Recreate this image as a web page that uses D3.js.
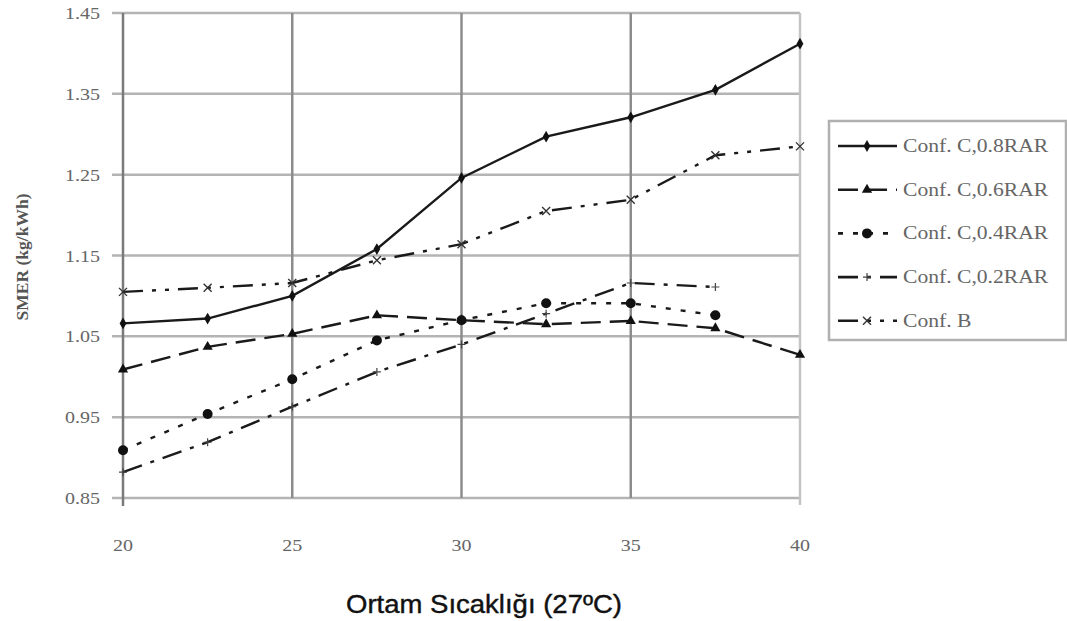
<!DOCTYPE html>
<html>
<head>
<meta charset="utf-8">
<script src="https://cdn.jsdelivr.net/npm/d3@7"></script>
<style>
  body { margin: 0; background: #fff; }
  svg { display: block; }
</style>
</head>
<body>
<script>
// data
var temps = [20, 22.5, 25, 27.5, 30, 32.5, 35, 37.5, 40];
var conf08 = [1.066, 1.072, 1.100, 1.158, 1.246, 1.297, 1.321, 1.355, 1.412];
var conf06 = [1.009, 1.037, 1.053, 1.076, 1.070, 1.065, 1.069, 1.060, 1.027];
var conf04 = [0.909, 0.954, 0.997, 1.045, 1.070, 1.091, 1.091, 1.076];
var conf02 = [0.882, 0.919, 0.963, 1.006, 1.040, 1.078, 1.116, 1.111];
var confB = [1.105, 1.110, 1.116, 1.144, 1.164, 1.205, 1.219, 1.274, 1.285];
var xTicks = [20, 25, 30, 35, 40];
var yTicks = [0.85, 0.95, 1.05, 1.15, 1.25, 1.35, 1.45];

var series = [
  { name: "Conf. C,0.8RAR", values: conf08, dash: null, marker: "diamond" },
  { name: "Conf. C,0.6RAR", values: conf06, dash: "20,9", marker: "triangle" },
  { name: "Conf. C,0.4RAR", values: conf04, dash: "5,10", marker: "circle" },
  { name: "Conf. C,0.2RAR", values: conf02, dash: "20,9,4,9", marker: "plus" },
  { name: "Conf. B", values: confB, dash: "20,9,4,9,4,9", marker: "cross" }
];

var W = 1067, H = 621;
var svg = d3.select("body").append("svg").attr("width", W).attr("height", H);

var x = d3.scaleLinear().domain([20, 40]).range([123, 800]);
var y = d3.scaleLinear().domain([0.85, 1.45]).range([498, 13]);

var serif = "'Liberation Serif', 'Times New Roman', serif";

// horizontal gridlines
svg.append("g").selectAll("line").data(yTicks).enter().append("line")
  .attr("x1", 112).attr("x2", x(40))
  .attr("y1", function(d) { return y(d); }).attr("y2", function(d) { return y(d); })
  .attr("stroke", "#b4b4b4").attr("stroke-width", 2.5);

// vertical gridlines
svg.append("g").selectAll("line").data(xTicks.slice(1)).enter().append("line")
  .attr("x1", function(d) { return x(d); }).attr("x2", function(d) { return x(d); })
  .attr("y1", y(1.45)).attr("y2", function(d) { return d == 40 ? 505 : 498; })
  .attr("stroke", function(d) { return d == 40 ? "#c4c4c4" : "#8c8c8c"; })
  .attr("stroke-width", 2.5);

// left axis line
svg.append("line")
  .attr("x1", x(20)).attr("x2", x(20)).attr("y1", y(1.45)).attr("y2", 506)
  .attr("stroke", "#7a7a7a").attr("stroke-width", 2.5);

// tick labels (the source image is a little stretched sideways)
svg.append("g").selectAll("text").data(yTicks).enter().append("text")
  .attr("x", 100).attr("y", function(d) { return y(d) + 6; })
  .attr("text-anchor", "end")
  .attr("font-family", serif).attr("font-size", 17).attr("fill", "#666")
  .attr("textLength", 35).attr("lengthAdjust", "spacingAndGlyphs")
  .text(function(d) { return d.toFixed(2); });

svg.append("g").selectAll("text").data(xTicks).enter().append("text")
  .attr("x", function(d) { return x(d); }).attr("y", 551)
  .attr("text-anchor", "middle")
  .attr("font-family", serif).attr("font-size", 17).attr("fill", "#666")
  .attr("textLength", 20).attr("lengthAdjust", "spacingAndGlyphs")
  .text(function(d) { return d; });

// axis titles
svg.append("text")
  .attr("transform", "translate(28,257) rotate(-90)")
  .attr("text-anchor", "middle")
  .attr("font-family", serif).attr("font-size", 16).attr("font-weight", "bold")
  .attr("fill", "#555")
  .attr("textLength", 127).attr("lengthAdjust", "spacingAndGlyphs")
  .text("SMER (kg/kWh)");

svg.append("text")
  .attr("x", 484).attr("y", 613)
  .attr("text-anchor", "middle")
  .attr("font-family", "'Liberation Sans', Arial, sans-serif").attr("font-size", 25)
  .attr("fill", "#111").attr("stroke", "#111").attr("stroke-width", 0.4)
  .attr("textLength", 276).attr("lengthAdjust", "spacingAndGlyphs")
  .text("Ortam Sıcaklığı (27ºC)");

function drawMarker(g, type, cx, cy) {
  if (type == "diamond") {
    g.append("path").attr("d", d3.symbol(d3.symbolDiamond, 40)())
      .attr("transform", "translate(" + cx + "," + cy + ")").attr("fill", "#111");
  } else if (type == "triangle") {
    g.append("path").attr("d", d3.symbol(d3.symbolTriangle, 45)())
      .attr("transform", "translate(" + cx + "," + cy + ")").attr("fill", "#111");
  } else if (type == "circle") {
    g.append("circle").attr("cx", cx).attr("cy", cy).attr("r", 5).attr("fill", "#111");
  } else if (type == "plus") {
    g.append("path").attr("d", "M-4,0H4M0,-4V4")
      .attr("transform", "translate(" + cx + "," + cy + ")")
      .attr("stroke", "#444").attr("stroke-width", 1.2).attr("fill", "none");
  } else if (type == "cross") {
    g.append("path").attr("d", "M-4,-4L4,4M-4,4L4,-4")
      .attr("transform", "translate(" + cx + "," + cy + ")")
      .attr("stroke", "#333").attr("stroke-width", 1.4).attr("fill", "none");
  }
}

var line = d3.line()
  .x(function(d, i) { return x(temps[i]); })
  .y(function(d) { return y(d); });

series.forEach(function(s) {
  var g = svg.append("g");
  g.append("path")
    .attr("d", line(s.values))
    .attr("fill", "none").attr("stroke", "#1a1a1a").attr("stroke-width", 2.4)
    .attr("stroke-dasharray", s.dash);
  s.values.forEach(function(v, i) {
    drawMarker(g, s.marker, x(temps[i]), y(v));
  });
});

// legend
var lg = svg.append("g");
lg.append("rect")
  .attr("x", 829).attr("y", 121).attr("width", 237).attr("height", 219)
  .attr("fill", "#fff").attr("stroke", "#b0b0b0").attr("stroke-width", 2.5);

series.forEach(function(s, i) {
  var ly = 146 + i * 43.7;
  lg.append("line")
    .attr("x1", 838).attr("x2", 897).attr("y1", ly).attr("y2", ly)
    .attr("stroke", "#1a1a1a").attr("stroke-width", 2.6)
    .attr("stroke-dasharray", s.dash);
  drawMarker(lg, s.marker, 867, ly);
  var t = lg.append("text")
    .attr("x", 903).attr("y", ly + 6)
    .attr("font-family", serif).attr("font-size", 18).attr("fill", "#666")
    .text(s.name);
  // stretch the same way as the source image
  t.attr("textLength", t.node().getComputedTextLength() * 1.2)
    .attr("lengthAdjust", "spacingAndGlyphs");
});
</script>
</body>
</html>
